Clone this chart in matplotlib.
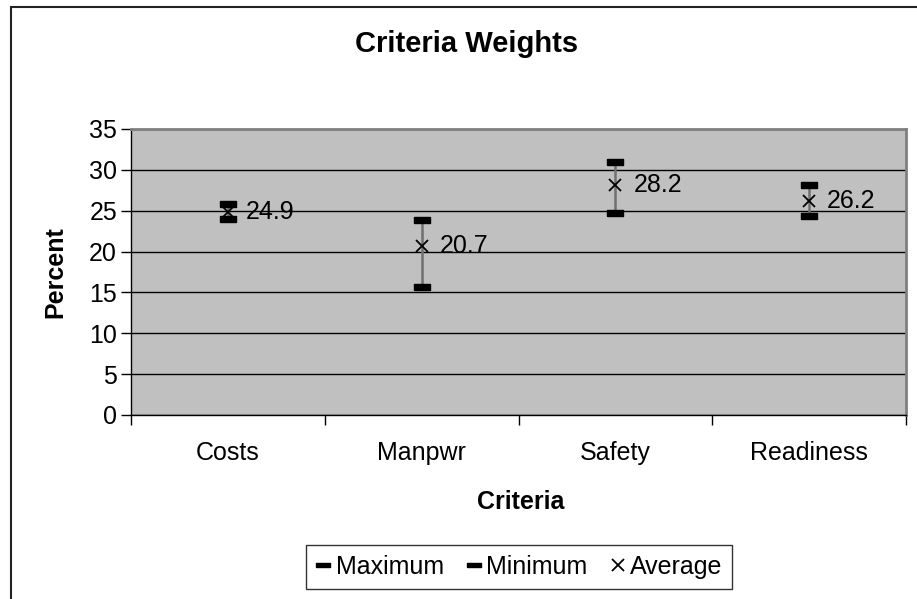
import matplotlib
matplotlib.use("Agg")
import matplotlib.pyplot as plt
from matplotlib.lines import Line2D
from matplotlib.patches import Rectangle
import numpy as np

plt.rcParams['font.family'] = ['Liberation Sans', 'DejaVu Sans']

categories = ["Costs", "Manpwr", "Safety", "Readiness"]
maximum = [25.8, 23.9, 31.0, 28.1]
minimum = [24.0, 15.7, 24.75, 24.3]
average = [24.9, 20.7, 28.2, 26.2]
y_ticks = [0, 5, 10, 15, 20, 25, 30, 35]

W, H = 917, 599
fig = plt.figure(figsize=(W / 100, H / 100), dpi=100)
fig.patch.set_facecolor('white')

# outer chart-area border (only left/top visible in the crop)
fig.patches.append(Rectangle((11 / W, -0.05), 1.2, (599 - 7) / H + 0.05,
                             transform=fig.transFigure, fill=False,
                             edgecolor='#222222', linewidth=1.5))

ax = fig.add_axes([131 / W, (H - 415) / H, (906 - 131) / W, (415 - 129) / H])
ax.set_facecolor('#C0C0C0')

x = np.arange(1, len(categories) + 1)
ax.set_xlim(0.5, len(categories) + 0.5)
ax.set_ylim(0, 35)

ax.set_yticks(y_ticks)
ax.yaxis.grid(True, color='black', linewidth=1.0)
ax.set_axisbelow(True)

# category boundaries as major ticks, labels as minor ticks
ax.set_xticks(np.arange(0.5, len(categories) + 1, 1.0))
ax.set_xticklabels([])
ax.set_xticks(x, minor=True)
ax.set_xticklabels(categories, minor=True)
ax.tick_params(axis='x', which='major', direction='out', length=7, width=1, color='black')
ax.tick_params(axis='x', which='minor', length=0, pad=19, labelsize=18)
ax.tick_params(axis='y', direction='out', length=7, width=1, labelsize=18, pad=3)

for s in ['top', 'right']:
    ax.spines[s].set_color('#808080')
    ax.spines[s].set_linewidth(2)
for s in ['left', 'bottom']:
    ax.spines[s].set_color('black')
    ax.spines[s].set_linewidth(1)

# vertical range lines
ax.vlines(x, minimum, maximum, colors='#707070', linewidth=1.8, zorder=3)

bar_marker = [(-1.5, -0.5), (1.5, -0.5), (1.5, 0.5), (-1.5, 0.5), (-1.5, -0.5)]
ax.plot(x, maximum, linestyle='none', marker=bar_marker, markersize=11.5,
        color='black', zorder=4)
ax.plot(x, minimum, linestyle='none', marker=bar_marker, markersize=11.5,
        color='black', zorder=4)
ax.plot(x, average, linestyle='none', marker='x', markersize=9,
        markeredgewidth=1.3, color='black', zorder=5)

for xi, v in zip(x, average):
    ax.annotate(f"{v:.1f}", (xi, v), xytext=(13, 0), textcoords='offset points',
                va='center', ha='left', fontsize=18, zorder=6)

fig.text(467 / W, 1 - 44 / H, "Criteria Weights", ha='center', va='center',
         fontsize=21, fontweight='bold')
fig.text(55 / W, 1 - 272 / H, "Percent", ha='center', va='center',
         rotation=90, fontsize=18, fontweight='bold')
fig.text(521 / W, 1 - 502 / H, "Criteria", ha='center', va='center',
         fontsize=18, fontweight='bold')

handles = [
    Line2D([], [], linestyle='none', marker=bar_marker, markersize=10, color='black'),
    Line2D([], [], linestyle='none', marker=bar_marker, markersize=10, color='black'),
    Line2D([], [], linestyle='none', marker='x', markersize=8, markeredgewidth=1.3, color='black'),
]
leg = fig.legend(handles, ["Maximum", "Minimum", "Average"], loc='center',
                 bbox_to_anchor=(519 / W, 1 - 567 / H), ncol=3, fontsize=18,
                 frameon=True, fancybox=False, shadow=False, handlelength=0.6,
                 handletextpad=0.2, columnspacing=0.9, borderpad=0.4)
leg.get_frame().set_edgecolor('black')
leg.get_frame().set_linewidth(1)

fig.savefig("out.png", dpi=100, facecolor='white')
